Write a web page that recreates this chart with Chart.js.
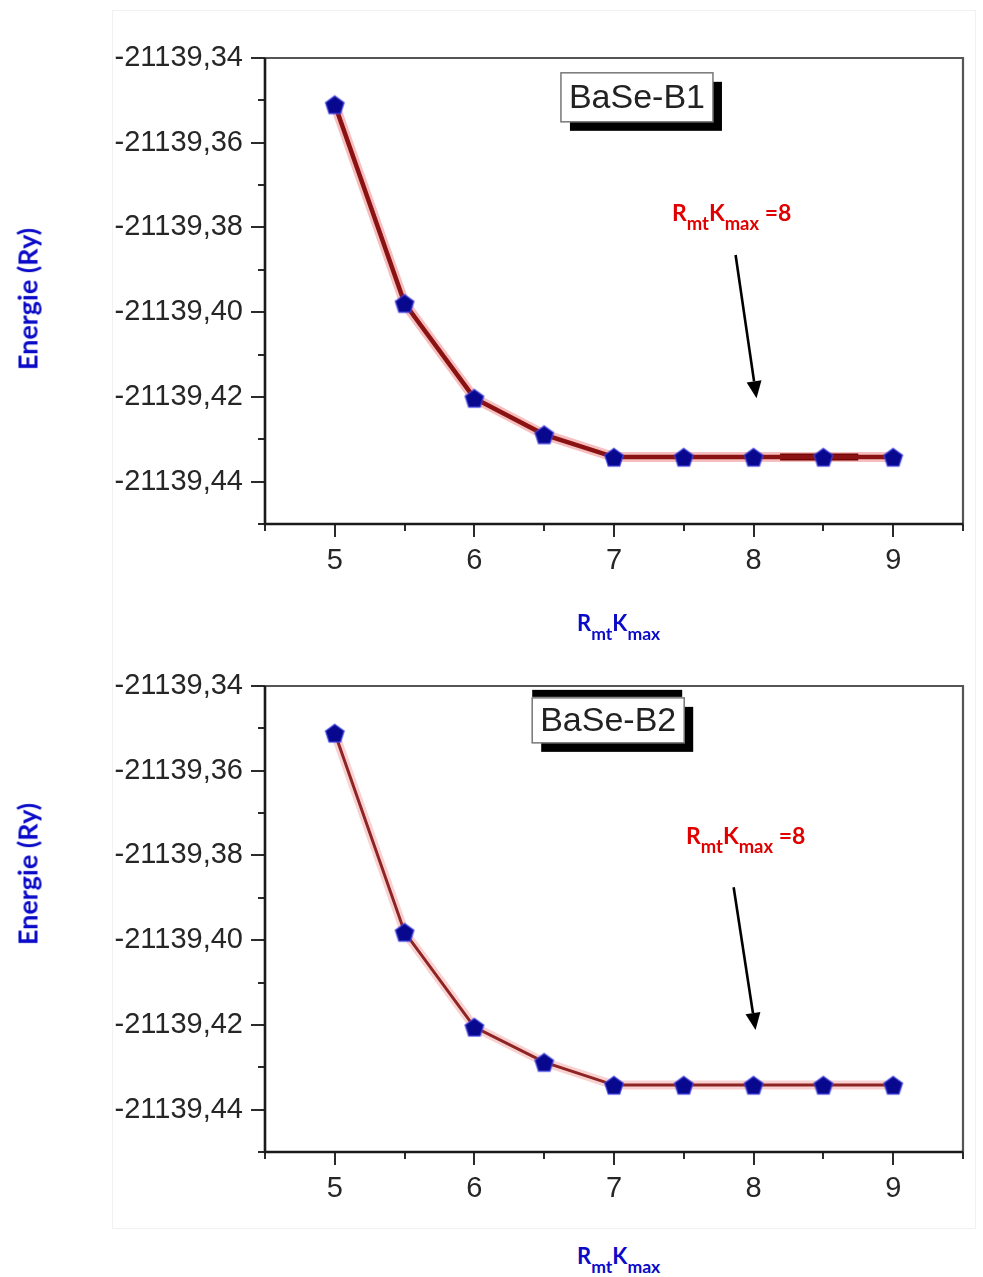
<!DOCTYPE html>
<html lang="fr">
<head>
<meta charset="utf-8">
<title>BaSe - convergence RmtKmax</title>
<script src="https://cdn.jsdelivr.net/npm/chart.js@4.4.1/dist/chart.umd.min.js"></script>
<style>
    html, body { margin: 0; padding: 0; background: #fff; }
    #page { position: relative; width: 983px; height: 1277px; overflow: hidden; }
    #page canvas { position: absolute; left: 0; }
    .edge { position: absolute; left: 112px; top: 10px; width: 862px; height: 1217px; border: 1px solid #f1f1f1; }
    .ytitle {
        position: absolute; font: bold 27px Lato, "Open Sans", sans-serif; color: #0a0ac8;
        transform: translate(-50%, -50%) rotate(-90deg); white-space: nowrap;
    }
    .xtitle, .note { position: absolute; font: bold 22px Lato, "Open Sans", sans-serif; white-space: nowrap; line-height: 1; }
    .xtitle { color: #0a0ac8; }
    .note { color: #e00000; font-size: 23px; }
    .xtitle span, .note span { position: relative; top: 0.5em; font-size: 0.8em; }
</style>
</head>
<body>
<div id="page">
    <div class="edge"></div>
    <canvas id="chartB1" width="983" height="600" style="top:0"></canvas>
    <canvas id="chartB2" width="983" height="600" style="top:628px"></canvas>

    <div class="ytitle" style="left:27px; top:299px">Energie (Ry)</div>
    <div class="xtitle" style="left:577px; top:612px">R<span>mt</span>K<span>max</span></div>
    <div class="note" style="left:672px; top:201px">R<span>mt</span>K<span>max</span> =8</div>

    <div class="ytitle" style="left:27px; top:874px">Energie (Ry)</div>
    <div class="xtitle" style="left:577px; top:1245px">R<span>mt</span>K<span>max</span></div>
    <div class="note" style="left:686px; top:824px">R<span>mt</span>K<span>max</span> =8</div>
</div>

<script>
// --- donnees ---
const rmtKmax = [5, 5.5, 6, 6.5, 7, 7.5, 8, 8.5, 9];
const energieB1 = [-21139.3510, -21139.3979, -21139.4203, -21139.4289, -21139.4342, -21139.4342, -21139.4342, -21139.4342, -21139.4342];
const energieB2 = [-21139.3511, -21139.3981, -21139.4205, -21139.4288, -21139.4342, -21139.4342, -21139.4342, -21139.4342, -21139.4342];
// petit trait plus epais visible sur B1 autour de 8.5
const traitB1X = [8.19, 8.75];
const traitB1Y = [-21139.4342, -21139.4342];

const xMajorTicks = [5, 6, 7, 8, 9];
const xMinorTicks = [4.5, 5.5, 6.5, 7.5, 8.5, 9.5];
const yMajorTicks = [-21139.34, -21139.36, -21139.38, -21139.40, -21139.42, -21139.44];
const yMinorTicks = [-21139.35, -21139.37, -21139.39, -21139.41, -21139.43, -21139.45];

const X_MIN = 4.5, X_MAX = 9.5;
const Y_MIN = -21139.45, Y_MAX = -21139.34;

function isMajor(list, v) {
    return list.some(t => Math.abs(t - v) < 1e-6);
}

function fmtEnergie(v) {
    return v.toFixed(2).replace('.', ',');
}

// marqueur pentagone (pas dispo dans Chart.js)
function makePentagon(size, fill, edge) {
    const c = document.createElement('canvas');
    c.width = size; c.height = size;
    const g = c.getContext('2d');
    const r = size / 2 - 1.2;
    g.beginPath();
    for (let i = 0; i < 5; i++) {
        const a = -Math.PI / 2 + i * 2 * Math.PI / 5;
        const px = size / 2 + r * Math.cos(a);
        const py = size / 2 + 1 + r * Math.sin(a);
        if (i === 0) g.moveTo(px, py); else g.lineTo(px, py);
    }
    g.closePath();
    g.fillStyle = fill;
    g.fill();
    g.lineWidth = 1.4;
    g.strokeStyle = edge;
    g.stroke();
    return c;
}

const pentagon = makePentagon(22, '#08088e', 'rgba(70,70,230,0.8)');

const framePlugin = {
    id: 'frame',
    beforeDatasetsDraw(chart) {
        const { ctx, chartArea: a, scales: { x, y } } = chart;
        ctx.save();
        ctx.strokeStyle = '#2a2a2a';
        ctx.lineWidth = 2;
        ctx.beginPath();
        [...xMajorTicks, ...xMinorTicks].forEach(v => {
            const px = Math.round(x.getPixelForValue(v));
            const len = isMajor(xMajorTicks, v) ? 13 : 7;
            ctx.moveTo(px, a.bottom);
            ctx.lineTo(px, a.bottom + len);
        });
        [...yMajorTicks, ...yMinorTicks].forEach(v => {
            const py = Math.round(y.getPixelForValue(v));
            const len = isMajor(yMajorTicks, v) ? 14 : 7;
            ctx.moveTo(a.left, py);
            ctx.lineTo(a.left - len, py);
        });
        ctx.stroke();

        // cadre : haut et droite gris, gauche et bas noirs
        ctx.strokeStyle = '#555';
        ctx.lineWidth = 2.2;
        ctx.beginPath();
        ctx.moveTo(a.left, a.top);
        ctx.lineTo(a.right, a.top);
        ctx.lineTo(a.right, a.bottom);
        ctx.stroke();
        ctx.strokeStyle = '#1a1a1a';
        ctx.lineWidth = 2.6;
        ctx.beginPath();
        ctx.moveTo(a.left, a.top);
        ctx.lineTo(a.left, a.bottom);
        ctx.lineTo(a.right, a.bottom);
        ctx.stroke();
        ctx.restore();
    },
    afterDraw(chart, args, opts) {
        const { ctx, scales: { x, y } } = chart;
        ctx.save();

        // etiquette BaSe-Bx avec ombre
        const b = opts.box;
        if (b) {
            const bx = x.getPixelForValue(b.x);
            const by = y.getPixelForValue(b.y);
            ctx.fillStyle = '#000';
            ctx.fillRect(bx + 9, by + 9, b.w, b.h);
            if (b.topBar) ctx.fillRect(bx, by - 8, b.w - 2, 7);
            ctx.fillStyle = '#fff';
            ctx.fillRect(bx, by, b.w, b.h);
            ctx.strokeStyle = '#777';
            ctx.lineWidth = 1.5;
            ctx.strokeRect(bx, by, b.w, b.h);
            ctx.fillStyle = '#222';
            ctx.font = '34px "Liberation Sans", Arial, sans-serif';
            ctx.textAlign = 'center';
            ctx.textBaseline = 'middle';
            ctx.fillText(b.text, bx + b.w / 2, by + b.h / 2 + 1);
        }

        // fleche vers RmtKmax = 8
        const ar = opts.arrow;
        if (ar) {
            const x0 = x.getPixelForValue(ar.from[0]), y0 = y.getPixelForValue(ar.from[1]);
            const x1 = x.getPixelForValue(ar.to[0]), y1 = y.getPixelForValue(ar.to[1]);
            const ang = Math.atan2(y1 - y0, x1 - x0);
            const headL = 17, headW = 7.5;
            const bxh = x1 - headL * Math.cos(ang), byh = y1 - headL * Math.sin(ang);
            ctx.strokeStyle = '#000';
            ctx.lineWidth = 2.6;
            ctx.beginPath();
            ctx.moveTo(x0, y0);
            ctx.lineTo(bxh, byh);
            ctx.stroke();
            ctx.fillStyle = '#000';
            ctx.beginPath();
            ctx.moveTo(x1, y1);
            ctx.lineTo(bxh + headW * Math.sin(ang), byh - headW * Math.cos(ang));
            ctx.lineTo(bxh - headW * Math.sin(ang), byh + headW * Math.cos(ang));
            ctx.closePath();
            ctx.fill();
        }
        ctx.restore();
    }
};

function buildChart(id, energie, style, extra) {
    const canvas = document.getElementById(id);
    if (!canvas) {
        console.error('canvas introuvable', id);
        return null;
    }
    const datasets = [
        {
            label: 'E',
            data: rmtKmax.map((v, i) => ({ x: v, y: energie[i] })),
            borderColor: style.line,
            borderWidth: style.width,
            tension: 0,
            pointStyle: pentagon,
            pointRadius: 10,
            pointHoverRadius: 10
        }
    ];
    if (extra) datasets.push(extra);
    datasets.push({
        label: 'halo',
        data: rmtKmax.map((v, i) => ({ x: v, y: energie[i] })),
        borderColor: style.glow,
        borderWidth: style.glowWidth,
        tension: 0,
        pointRadius: 0
    });

    const tickFont = { family: '"Liberation Sans", Arial, sans-serif', size: 29 };

    return new Chart(canvas.getContext('2d'), {
        type: 'line',
        data: { datasets },
        options: {
            responsive: false,
            animation: false,
            devicePixelRatio: 1,
            layout: { padding: { top: 58, right: 19, left: 0, bottom: 0 } },
            plugins: {
                legend: { display: false },
                tooltip: { enabled: false },
                frame: style.frame
            },
            scales: {
                x: {
                    type: 'linear',
                    min: X_MIN,
                    max: X_MAX,
                    grid: { display: false, drawTicks: false },
                    border: { display: false },
                    afterBuildTicks: s => {
                        s.ticks = [...xMajorTicks, ...xMinorTicks].sort((p, q) => p - q).map(v => ({ value: v }));
                    },
                    afterFit: s => { s.height = 76; },
                    ticks: {
                        autoSkip: false,
                        maxRotation: 0,
                        padding: 20,
                        color: '#262626',
                        font: tickFont,
                        callback: v => isMajor(xMajorTicks, v) ? String(v) : ''
                    }
                },
                y: {
                    min: Y_MIN,
                    max: Y_MAX,
                    grid: { display: false, drawTicks: false },
                    border: { display: false },
                    afterBuildTicks: s => {
                        s.ticks = [...yMajorTicks, ...yMinorTicks].sort((p, q) => p - q).map(v => ({ value: v }));
                    },
                    afterFit: s => { s.width = 265; },
                    ticks: {
                        autoSkip: false,
                        padding: 22,
                        color: '#262626',
                        font: tickFont,
                        callback: v => isMajor(yMajorTicks, v) ? fmtEnergie(v) : ''
                    }
                }
            }
        },
        plugins: [framePlugin]
    });
}

document.addEventListener('DOMContentLoaded', () => {
    if (typeof Chart === 'undefined') {
        console.error('Chart.js non charge');
        return;
    }

    buildChart('chartB1', energieB1, {
        line: '#8a1212',
        width: 4.5,
        glow: 'rgba(236,110,110,0.45)',
        glowWidth: 10,
        frame: {
            box: { x: 6.62, y: -21139.3435, w: 152, h: 49, text: 'BaSe-B1' },
            arrow: { from: [7.871, -21139.3865], to: [8.021, -21139.4203] }
        }
    }, {
        label: 'trait',
        data: traitB1X.map((v, i) => ({ x: v, y: traitB1Y[i] })),
        borderColor: '#6e0000',
        borderWidth: 7,
        pointRadius: 0
    });

    buildChart('chartB2', energieB2, {
        line: '#8e2424',
        width: 3,
        glow: 'rgba(240,140,140,0.4)',
        glowWidth: 9,
        frame: {
            box: { x: 6.414, y: -21139.3428, w: 152, h: 45, text: 'BaSe-B2', topBar: true },
            arrow: { from: [7.857, -21139.3875], to: [8.014, -21139.4212] }
        }
    });
});
</script>
</body>
</html>
